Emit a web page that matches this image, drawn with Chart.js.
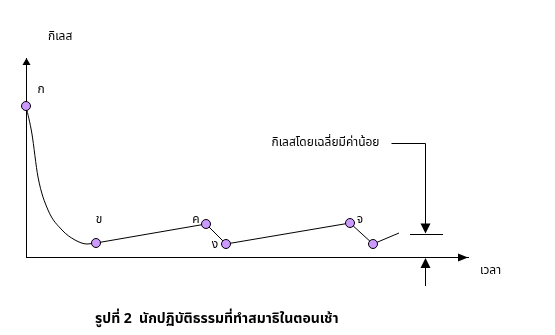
<!DOCTYPE html>
<html>
<head>
<meta charset="utf-8">
<script src="https://cdn.jsdelivr.net/npm/chart.js@4/dist/chart.umd.min.js"></script>
<style>
    html, body { margin: 0; padding: 0; background: #fff; }
    #wrap { width: 555px; height: 335px; }
</style>
</head>
<body>
<div id="wrap"><canvas id="chart1"></canvas></div>
<script>
// points on the path (time, kilesa level)
const pointNames = ['ก', 'ข', 'ค', 'ง', 'จ', ''];
const pointTime = [0, 3.5, 9.0, 10.0, 16.2, 17.35];
const pointLevel = [15.1, 1.4, 3.3, 1.3, 3.4, 1.3];

// the falling curve from ก to ข
const curveTime = [0, 0.29, 0.6, 1.1, 1.8, 2.45, 3.05, 3.5];
const curveLevel = [15.1, 12.4, 8.0, 4.7, 2.7, 1.7, 1.3, 1.4];

// straight zig-zag after ข, last piece has no marker
const pathTime = [3.5, 9.0, 10.0, 16.2, 17.35, 18.65];
const pathLevel = [1.4, 3.3, 1.3, 3.4, 1.3, 2.4];

const averageLevel = 2.3;
const averageSpan = [19.2, 20.85];
const noteLevel = 11.4;

const yTitle = 'กิเลส';
const xTitle = 'เวลา';
const noteText = 'กิเลสโดยเฉลี่ยมีค่าน้อย';
const caption = 'รูปที่ 2  นักปฏิบัติธรรมที่ทำสมาธิในตอนเช้า';

const FONT = "Tahoma, 'Noto Sans Thai', 'Noto Sans', 'DejaVu Sans', sans-serif";

function xy(xs, ys) {
    return xs.map((v, i) => ({ x: v, y: ys[i] }));
}

function arrowHead(ctx, tx, ty, dir, len, half) {
    ctx.beginPath();
    ctx.moveTo(tx, ty);
    if (dir === 'up') { ctx.lineTo(tx - half, ty + len); ctx.lineTo(tx + half, ty + len); }
    if (dir === 'down') { ctx.lineTo(tx - half, ty - len); ctx.lineTo(tx + half, ty - len); }
    if (dir === 'right') { ctx.lineTo(tx - len, ty - half); ctx.lineTo(tx - len, ty + half); }
    ctx.closePath();
    ctx.fill();
}

const annot = {
    id: 'annot',
    afterDraw(chart) {
        const { ctx, chartArea: a, scales: { x, y } } = chart;
        ctx.save();
        ctx.fillStyle = '#000';
        ctx.strokeStyle = '#000';
        ctx.lineWidth = 1;

        // axis arrows
        arrowHead(ctx, a.left + 0.5, a.top, 'up', 7, 4);
        arrowHead(ctx, a.right, a.bottom + 0.5, 'right', 10, 4);

        // average level marker
        const ay = Math.round(y.getPixelForValue(averageLevel)) + 0.5;
        const ax = Math.round(x.getPixelForValue((averageSpan[0] + averageSpan[1]) / 2 - 0.05)) + 0.5;
        ctx.beginPath();
        ctx.moveTo(x.getPixelForValue(averageSpan[0]), ay);
        ctx.lineTo(x.getPixelForValue(averageSpan[1]), ay);
        ctx.stroke();

        const ny = Math.round(y.getPixelForValue(noteLevel)) + 0.5;
        ctx.beginPath();
        ctx.moveTo(ax - 34, ny);
        ctx.lineTo(ax, ny);
        ctx.lineTo(ax, ay - 4);
        ctx.stroke();
        arrowHead(ctx, ax, ay - 1, 'down', 10, 5);

        const by = a.bottom + 1;
        ctx.beginPath();
        ctx.moveTo(ax, by + 8);
        ctx.lineTo(ax, by + 28);
        ctx.stroke();
        arrowHead(ctx, ax, by, 'up', 10, 5);

        // texts
        ctx.font = '12px ' + FONT;
        ctx.textBaseline = 'middle';
        ctx.textAlign = 'right';
        ctx.fillText(noteText, ax - 46, ny);

        ctx.textAlign = 'left';
        ctx.fillText(yTitle, a.left + 22, a.top - 20);
        ctx.fillText(xTitle, a.right + 12, a.bottom + 15);

        const offs = [[15, -15], [3, -22], [-10, -3], [-11, 2], [10, -2], [0, 0]];
        ctx.textAlign = 'center';
        pointNames.forEach((n, i) => {
            if (!n) return;
            const px = x.getPixelForValue(pointTime[i]) + offs[i][0];
            const py = y.getPixelForValue(pointLevel[i]) + offs[i][1];
            ctx.fillText(n, px, py);
        });

        ctx.font = 'bold 14px ' + FONT;
        ctx.textAlign = 'left';
        ctx.fillText(caption, 95, 320);
        ctx.restore();
    }
};

const ctx1 = document.getElementById('chart1').getContext('2d');
const chart = new Chart(ctx1, {
    type: 'line',
    data: {
        datasets: [{
            label: 'points',
            data: xy(pointTime, pointLevel),
            showLine: false,
            clip: false,
            pointRadius: 4.5,
            pointBackgroundColor: '#cc99ff',
            pointBorderColor: '#000',
            pointBorderWidth: 1
        },
        {
            label: 'path',
            data: xy(pathTime, pathLevel),
            borderColor: '#000',
            borderWidth: 1,
            pointRadius: 0,
            tension: 0
        },
        {
            label: 'curve',
            data: xy(curveTime, curveLevel),
            borderColor: '#000',
            borderWidth: 1,
            pointRadius: 0,
            cubicInterpolationMode: 'monotone'
        }]
    },
    options: {
        responsive: true,
        maintainAspectRatio: false,
        animation: false,
        events: [],
        layout: { padding: { left: 26, top: 58, right: 87, bottom: 78 } },
        plugins: { legend: { display: false }, tooltip: { enabled: false } },
        scales: {
            x: {
                type: 'linear', min: 0, max: 22.1,
                grid: { display: false, drawTicks: false },
                ticks: { display: false },
                border: { display: true, color: '#000', width: 1 }
            },
            y: {
                type: 'linear', min: 0, max: 19.9,
                grid: { display: false, drawTicks: false },
                ticks: { display: false },
                border: { display: true, color: '#000', width: 1 }
            }
        }
    },
    plugins: [annot]
});
</script>
</body>
</html>
